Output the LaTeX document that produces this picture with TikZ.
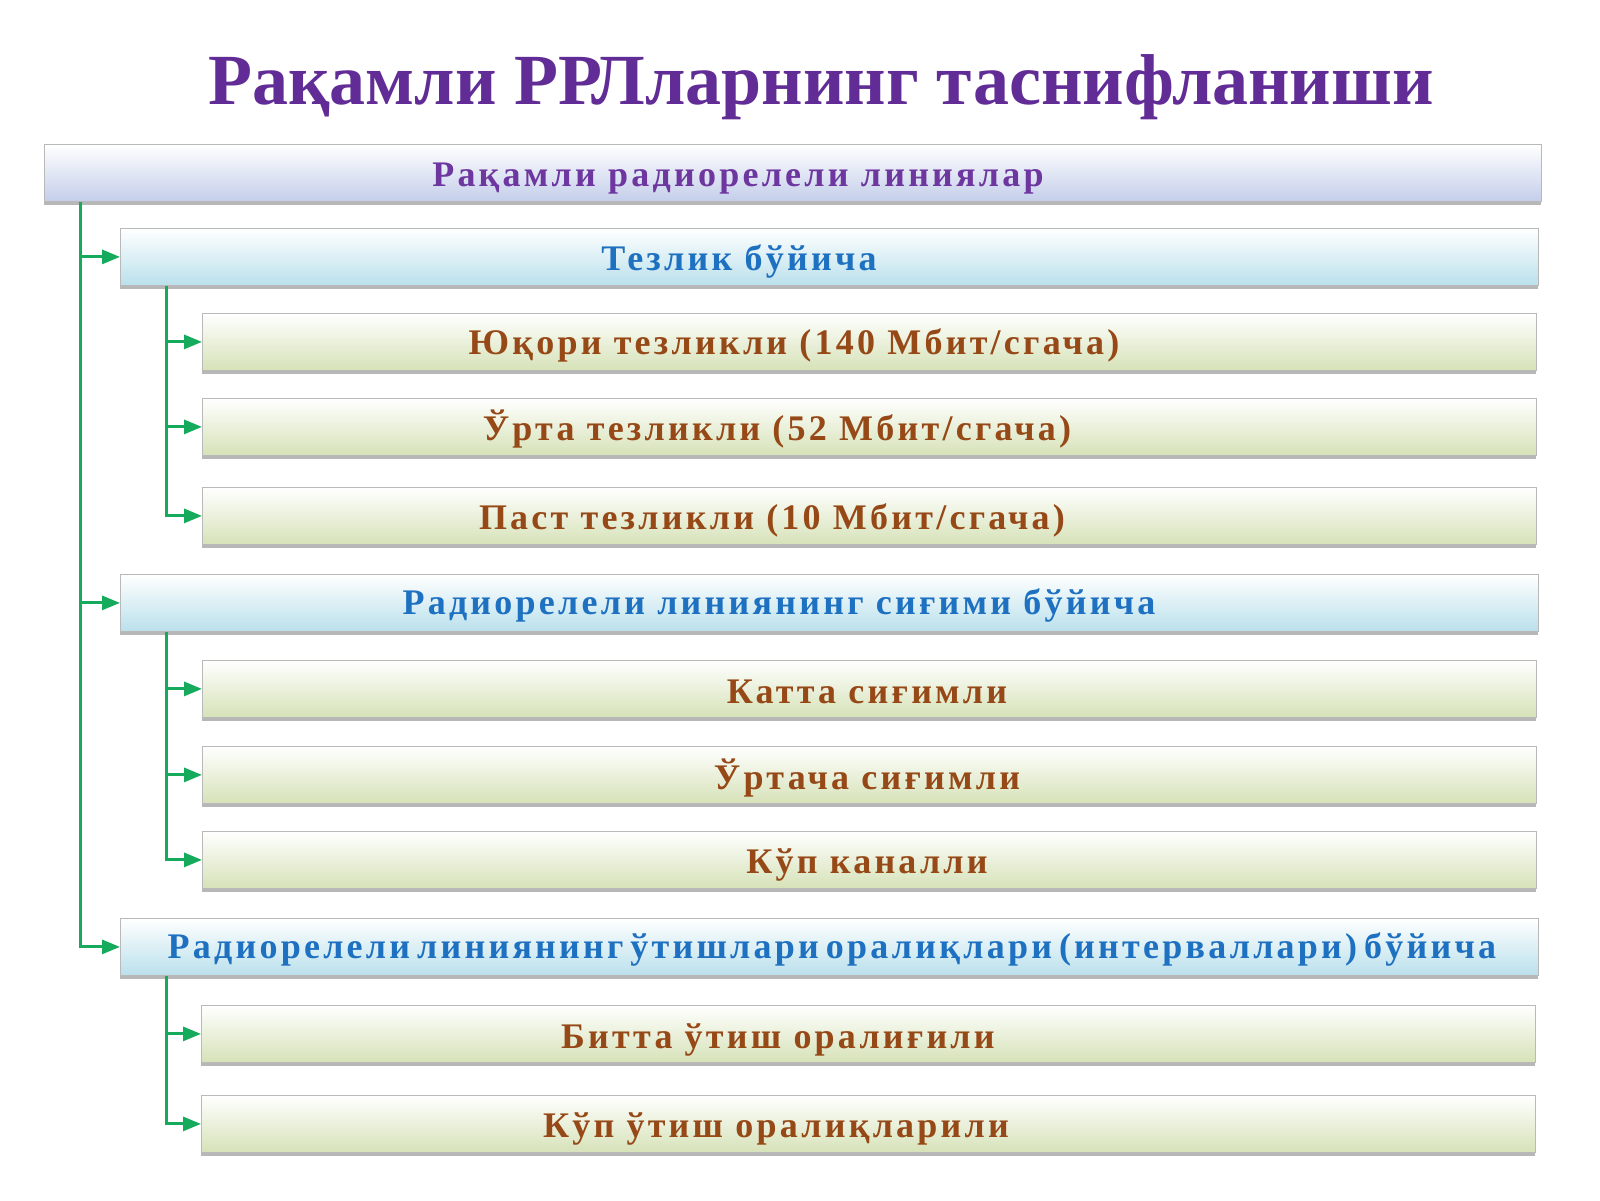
\documentclass[tikz,border=0pt]{standalone}
\usepackage{fontspec}
\setmainfont{Liberation Serif}
\newfontfamily\barfont[LetterSpace=9]{Liberation Serif}
\usetikzlibrary{positioning,arrows.meta,shadows}

\definecolor{titlepurple}{RGB}{98,44,150}
\definecolor{rootpurple}{RGB}{110,55,160}
\definecolor{groupblue}{RGB}{30,112,192}
\definecolor{itembrown}{RGB}{150,72,22}
\definecolor{rootfill}{RGB}{196,206,234}
\definecolor{groupfill}{RGB}{186,224,236}
\definecolor{itemfill}{RGB}{214,226,184}
\definecolor{linkgreen}{RGB}{22,170,92}

\tikzset{
  bar/.style={draw=gray!55, line width=0.8pt, anchor=north west, minimum height=57pt, inner sep=0pt,
    drop shadow={shadow xshift=0pt, shadow yshift=-4pt, fill=gray!80, opacity=0.7}},
  rootbar/.style={bar, top color=white, bottom color=rootfill, minimum width=1497pt},
  groupbar/.style={bar, top color=white, bottom color=groupfill, minimum width=1418pt},
  itembar/.style={bar, top color=white, bottom color=itemfill, minimum width=1334pt},
  bartext/.style={anchor=base, inner sep=0pt, font=\barfont\bfseries\fontsize{36}{42}\selectfont},
  roottext/.style={bartext, text=rootpurple},
  grouptext/.style={bartext, text=groupblue},
  itemtext/.style={bartext, text=itembrown},
  tightwords/.style={execute at begin node={\spaceskip=7pt\relax}},
  link/.style={draw=linkgreen, line width=3pt, -{Triangle[length=18pt,width=14pt]}},
}

\begin{document}
\begin{tikzpicture}[x=1pt,y=-1pt]
  \useasboundingbox[fill=white] (0,0) rectangle (1600,1200);

  \node[anchor=base, text=titlepurple, font=\bfseries\fontsize{72}{84}\selectfont] (title) at (821,104) {Рақамли РРЛларнинг таснифланиши};

  % bars
  \node[rootbar] (root) at (44,144) {};
  \node[groupbar] (speed) at (120,228) {};
  \node[itembar] (fast) at (202,313) {};
  \node[itembar] (mid) at (202,398) {};
  \node[itembar] (slow) at (202,487) {};
  \node[groupbar] (capacity) at (120,574) {};
  \node[itembar] (big) at (202,660) {};
  \node[itembar] (medium) at (202,746) {};
  \node[itembar] (multi) at (202,831) {};
  \node[groupbar] (span) at (120,918) {};
  \node[itembar] (single) at (201,1005) {};
  \node[itembar] (many) at (201,1095) {};

  % texts
  \node[roottext] (rootlbl) at (738,186) {Рақамли радиорелели линиялар};
  \node[grouptext] (speedlbl) at (739,270) {Тезлик бўйича};
  \node[itemtext] (fastlbl) at (794,354) {Юқори тезликли (140 Мбит/сгача)};
  \node[itemtext] (midlbl) at (777,440) {Ўрта тезликли (52 Мбит/сгача)};
  \node[itemtext] (slowlbl) at (772,529) {Паст тезликли (10 Мбит/сгача)};
  \node[grouptext] (capacitylbl) at (779,614) {Радиорелели линиянинг сиғими бўйича};
  \node[itemtext] (biglbl) at (867,703) {Катта сиғимли};
  \node[itemtext] (mediumlbl) at (867,789) {Ўртача сиғимли};
  \node[itemtext] (multilbl) at (867,873) {Кўп каналли};
  \node[grouptext, tightwords] (spanlbl) at (832,958) {Радиорелели линиянинг ўтишлари оралиқлари (интерваллари) бўйича};
  \node[itemtext] (singlelbl) at (778,1048) {Битта ўтиш оралиғили};
  \node[itemtext] (manylbl) at (776,1137) {Кўп ўтиш оралиқларили};

  % connectors
  \draw[link] ([xshift=36pt]root.south west) |- (speed.west);
  \draw[link] ([xshift=36pt]root.south west) |- (capacity.west);
  \draw[link] ([xshift=36pt]root.south west) |- (span.west);
  \draw[link] ([xshift=46pt]speed.south west) |- (fast.west);
  \draw[link] ([xshift=46pt]speed.south west) |- (mid.west);
  \draw[link] ([xshift=46pt]speed.south west) |- (slow.west);
  \draw[link] ([xshift=46pt]capacity.south west) |- (big.west);
  \draw[link] ([xshift=46pt]capacity.south west) |- (medium.west);
  \draw[link] ([xshift=46pt]capacity.south west) |- (multi.west);
  \draw[link] ([xshift=46pt]span.south west) |- (single.west);
  \draw[link] ([xshift=46pt]span.south west) |- (many.west);
\end{tikzpicture}
\end{document}
